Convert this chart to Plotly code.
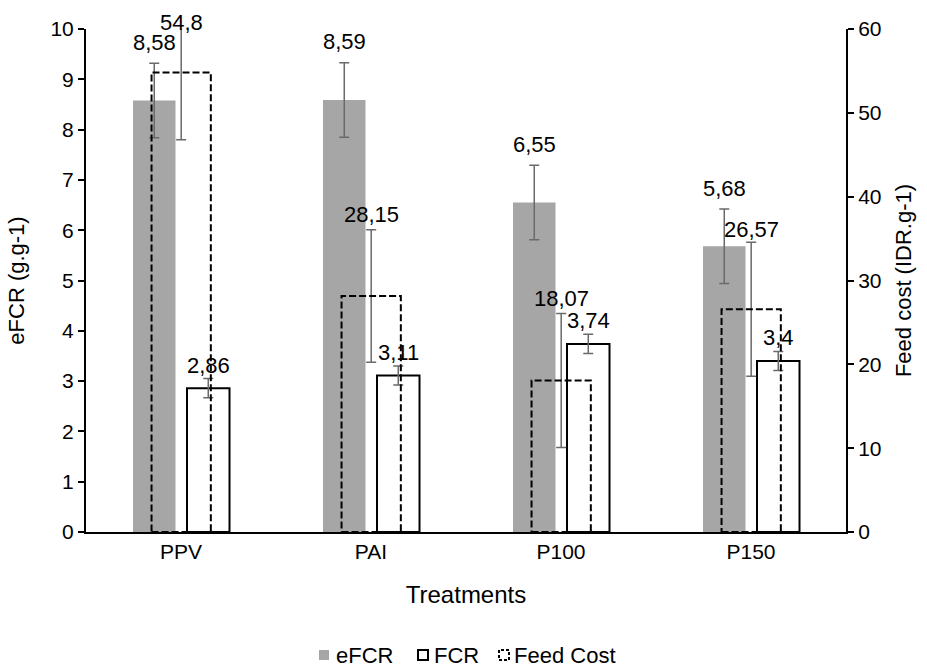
import plotly.graph_objects as go

# ---- data ----
categories = ["PPV", "PAI", "P100", "P150"]
efcr = [8.58, 8.59, 6.55, 5.68]
efcr_err = [0.74, 0.74, 0.74, 0.74]
fcr = [2.86, 3.11, 3.74, 3.4]
fcr_err = [0.19, 0.19, 0.19, 0.19]
feed_cost = [54.8, 28.15, 18.07, 26.57]
feed_cost_err = [8.0, 7.9, 8.0, 8.0]
series_names = ["eFCR", "FCR", "Feed Cost"]

# ---- styles ----
FONT = "Liberation Sans, Arial, sans-serif"
ERR_COLOR = "#6a6a6a"
EF_OFF, EF_W = -0.2526, 0.2237
FC_OFF, FC_W = 0.0316, 0.2237
CO_OFF, CO_W = -0.155, 0.312
label_shift_efcr = 58
label_shift_fcr = 23
label_shift_cost = [50, 82, 82, 80]
LBL = 22
W, H = 927, 671
ML, MR, MT, MB = 86, 81, 29, 139
PW, PH = W - ML - MR, H - MT - MB

x_idx = list(range(len(categories)))

def fmt(v):
    return ("%g" % v).replace(".", ",")

def px(xp):
    return (xp - ML) / PW

def py(yp):
    return (H - MB - yp) / PH

fig = go.Figure()

fig.add_trace(go.Bar(
    name=series_names[0], x=x_idx, y=efcr, offset=EF_OFF, width=EF_W,
    marker=dict(color="#a6a6a6", line=dict(width=0)),
    error_y=dict(type="data", array=efcr_err, color=ERR_COLOR, thickness=1.5, width=5),
    yaxis="y", showlegend=False,
))
fig.add_trace(go.Bar(
    name=series_names[1], x=x_idx, y=fcr, offset=FC_OFF, width=FC_W,
    marker=dict(color="white", line=dict(color="black", width=2)),
    error_y=dict(type="data", array=fcr_err, color=ERR_COLOR, thickness=1.5, width=5),
    yaxis="y", showlegend=False,
))
# Feed cost bars: transparent bars carrying error bars (outline drawn as dashed shapes)
fig.add_trace(go.Bar(
    name=series_names[2], x=x_idx, y=feed_cost, offset=CO_OFF, width=CO_W,
    marker=dict(color="rgba(0,0,0,0)", line=dict(width=0)),
    error_y=dict(type="data", array=feed_cost_err, color=ERR_COLOR, thickness=1.5, width=5),
    yaxis="y2", showlegend=False,
))

shapes = []
for i, v in zip(x_idx, feed_cost):
    shapes.append(dict(
        type="rect", xref="x", yref="y2",
        x0=i + CO_OFF, x1=i + CO_OFF + CO_W, y0=0, y1=v,
        line=dict(color="black", width=2, dash="7px,3px"),
        fillcolor="rgba(0,0,0,0)", layer="above",
    ))

annotations = []
for i, v in zip(x_idx, efcr):
    annotations.append(dict(x=i + EF_OFF + EF_W / 2, y=v, xref="x", yref="y",
                            text=fmt(v), showarrow=False, yshift=label_shift_efcr,
                            font=dict(family=FONT, size=LBL, color="black")))
for i, v in zip(x_idx, fcr):
    annotations.append(dict(x=i + FC_OFF + FC_W / 2, y=v, xref="x", yref="y",
                            text=fmt(v), showarrow=False, yshift=label_shift_fcr,
                            font=dict(family=FONT, size=LBL, color="black")))
for i, v, s in zip(x_idx, feed_cost, label_shift_cost):
    annotations.append(dict(x=i + CO_OFF + CO_W / 2, y=v, xref="x", yref="y2",
                            text=fmt(v), showarrow=False, yshift=s,
                            font=dict(family=FONT, size=LBL, color="black")))

# ---- legend (drawn manually so the Feed Cost key can be dashed) ----
LEG_Y = 655
leg_icons = [
    dict(x0=319, fill="#a6a6a6", line=dict(width=0)),
    dict(x0=418, fill="white", line=dict(color="black", width=2)),
    dict(x0=499, fill="rgba(0,0,0,0)", line=dict(color="black", width=2, dash="3px,2px")),
]
leg_text_x = [334, 432, 512]
for ic, tx, name in zip(leg_icons, leg_text_x, series_names):
    shapes.append(dict(type="rect", xref="paper", yref="paper",
                       x0=px(ic["x0"]), x1=px(ic["x0"] + 10),
                       y0=py(LEG_Y + 5), y1=py(LEG_Y - 5),
                       fillcolor=ic["fill"], line=ic["line"], layer="above"))
    annotations.append(dict(x=px(tx), y=py(LEG_Y), xref="paper", yref="paper",
                            xanchor="left", yanchor="middle", text=name, showarrow=False,
                            font=dict(family=FONT, size=22, color="black")))

fig.update_layout(
    width=W, height=H,
    margin=dict(l=ML, r=MR, t=MT, b=MB, autoexpand=False),
    paper_bgcolor="white", plot_bgcolor="white",
    font=dict(family=FONT, size=21, color="black"),
    barmode="overlay",
    showlegend=False,
    xaxis=dict(range=[-0.5, len(categories) - 0.5], tickvals=x_idx, ticktext=categories,
               showline=True, linecolor="black", linewidth=2, ticks="", showgrid=False,
               zeroline=False, title=dict(text="Treatments", font=dict(size=24), standoff=24),
               tickfont=dict(size=21)),
    yaxis=dict(range=[0, 10], dtick=1, showline=True, linecolor="black", linewidth=2,
               ticks="outside", ticklen=6, tickwidth=1.5, tickcolor="black",
               showgrid=False, zeroline=False, tickfont=dict(size=21),
               title=dict(text="eFCR (g.g-1)", font=dict(size=22), standoff=20)),
    yaxis2=dict(range=[0, 60], dtick=10, overlaying="y", side="right", showline=True,
                linecolor="black", linewidth=2, ticks="outside", ticklen=6, tickwidth=1.5,
                tickcolor="black", showgrid=False, zeroline=False, tickfont=dict(size=21),
                title=dict(text="Feed cost (IDR.g-1)", font=dict(size=22), standoff=15)),
    shapes=shapes,
    annotations=annotations,
)

fig.write_html("out.html")
